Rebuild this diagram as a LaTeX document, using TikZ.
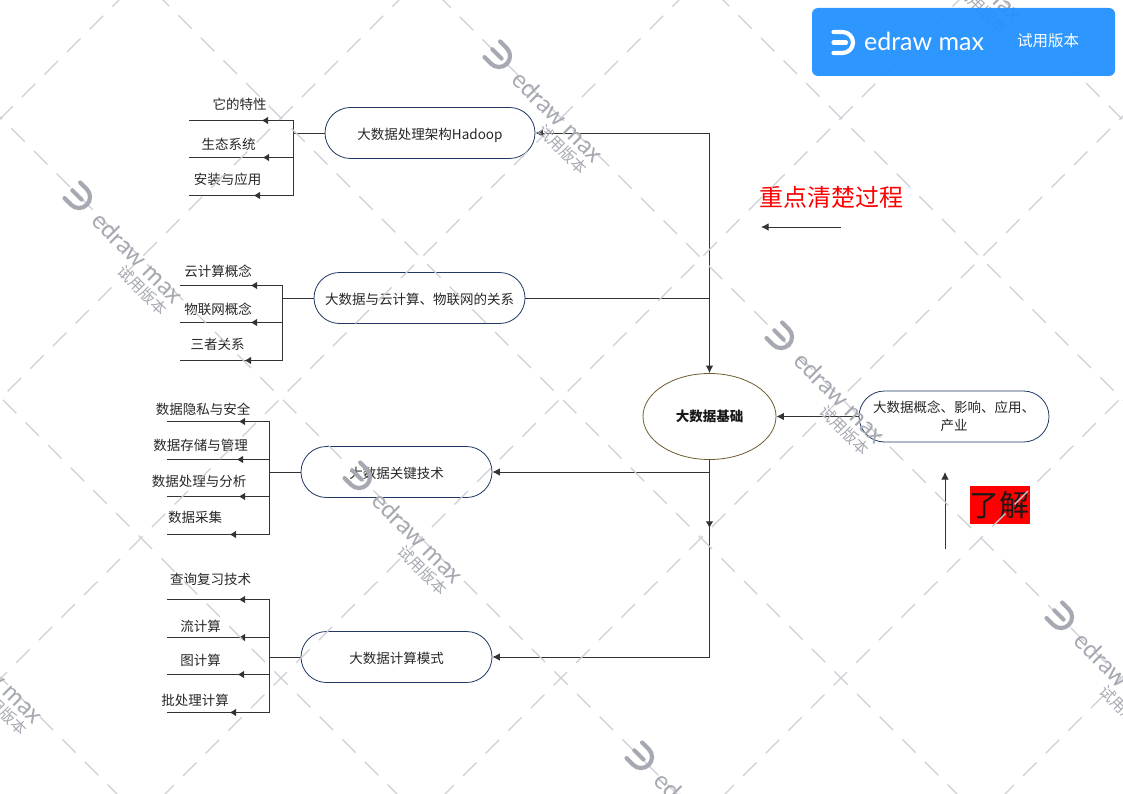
\documentclass[tikz,border=0pt]{standalone}
\usepackage{fontspec}
\setmainfont{Noto Sans CJK SC}
\newfontfamily\logofont{Lato}
\usetikzlibrary{shapes.misc, shapes.geometric, arrows.meta, decorations.markings}
\definecolor{pillc}{HTML}{1F3864}
\definecolor{ellc}{HTML}{6B5B2E}
\definecolor{linec}{HTML}{333333}
\definecolor{wmline}{HTML}{CDCFD4}
\definecolor{wmtext}{HTML}{A6A9B1}
\definecolor{bannerc}{HTML}{2291FF}

\begin{document}
\begin{tikzpicture}[
    x=1pt, y=-1pt,
    t/.style={font=\fontsize{13.5}{16}\selectfont, text=black!85, inner sep=0pt},
    pillbase/.style={rectangle, rounded rectangle, draw=pillc, line width=0.8pt, minimum height=51pt, font=\fontsize{13.5}{16}\selectfont, text=black!85, inner sep=0pt},
    pill/.style={pillbase, text height=13pt, text depth=0pt},
    l/.style={draw=linec, line width=0.9pt},
    a/.style={l, -{Latex[length=7.5pt, width=7.5pt]}},
    m/.style={l, postaction={decorate}, decoration={markings, mark=at position #1 with {\arrow{Latex[length=6.5pt, width=7.5pt]}}}},
    wm/.style={draw=wmline, line width=1.3pt, dash pattern=on 19pt off 13pt},
    logomark/.pic={
        \draw[line width=4.2pt, line cap=round, #1] (-9,-10.5) -- (0,-10.5) arc[start angle=-90, end angle=90, radius=10.5] -- (-9,10.5);
        \draw[line width=4.2pt, line cap=round, #1] (-9,0) -- (3.5,0);
    },
]
\useasboundingbox (0,0) rectangle (1123,794);

% Main nodes
\node[ellipse, draw=ellc, line width=0.8pt, minimum width=133pt, minimum height=86pt, inner sep=0pt, font=\fontsize{13.5}{16}\selectfont\bfseries, text=black!90] (base) at (709.5,416.5) {大数据基础};
\node[pill, minimum width=210pt] (hadoop) at (430,133) {大数据处理架构Hadoop};
\node[pill, minimum width=211pt] (cloud) at (419.5,298) {大数据与云计算、物联网的关系};
\node[pill, minimum width=191pt] (tech) at (396.5,472) {大数据关键技术};
\node[pill, minimum width=191pt] (mode) at (396.5,657) {大数据计算模式};
\node[pillbase, minimum width=190pt, text width=166pt, align=center] (intro) at (954,416.5) {大数据概念、影响、应用、\\[2pt]产业};

% Side notes
\node[font=\fontsize{24}{28}\selectfont, text=red, inner sep=0pt] (key) at (831,197) {重点清楚过程};
\node[fill=red, minimum width=59pt, minimum height=38pt, inner sep=0pt, font=\fontsize{30}{32}\selectfont, text=black!90] (know) at (999.5,505) {了解};
\coordinate (keya) at (841,227);
\coordinate (keyb) at (761,227);
\coordinate (knowa) at (945,549);
\coordinate (knowb) at (945,472);
\draw[a] (keya) -- (keyb);
\draw[a] (knowa) -- (knowb);

% Trunk
\coordinate (top) at (709.5,133);
\coordinate (low) at (709.5,657);
\draw[a] (top) -- (hadoop.east);
\draw[a] (top) -- (base.north);
\draw[l] (cloud.east) -- (cloud.east -| top);
\draw[m=68pt] (base.south) -- (low);
\draw[a] (base.south |- tech.east) -- (tech.east);
\draw[a] (low) -- (mode.east);
\draw[a] (intro.west) -- (base.east);

% Hadoop leaves
\node[t] (h1t) at (239.5,104) {它的特性};
\node[t] (h2t) at (228.5,144) {生态系统};
\node[t] (h3t) at (227.5,179) {安装与应用};
\coordinate (h1) at (293.5,120.5);
\coordinate (h2) at (293.5,157.5);
\coordinate (h3) at (293.5,195.5);
\coordinate (h1e) at (189,120.5);
\coordinate (h2e) at (189,157.5);
\coordinate (h3e) at (189,195.5);
\draw[l] (hadoop.west) -- (hadoop.west -| h1);
\draw[l] (h1) -- (h3);
\draw[m=32pt] (h1) -- (h1e);
\draw[m=31pt] (h2) -- (h2e);
\draw[m=40pt] (h3) -- (h3e);

% Cloud leaves
\node[t] (c1t) at (218,271) {云计算概念};
\node[t] (c2t) at (218,309) {物联网概念};
\node[t] (c3t) at (217.5,344) {三者关系};
\coordinate (c1) at (282.5,285.5);
\coordinate (c2) at (282.5,322.5);
\coordinate (c3) at (282.5,360.5);
\coordinate (c1e) at (179.5,285.5);
\coordinate (c2e) at (179.5,322.5);
\coordinate (c3e) at (179.5,360.5);
\draw[l] (cloud.west) -- (cloud.west -| c1);
\draw[l] (c1) -- (c3);
\draw[m=32pt] (c1) -- (c1e);
\draw[m=32pt] (c2) -- (c2e);
\draw[m=38pt] (c3) -- (c3e);

% Tech leaves
\node[t] (k1t) at (203,409) {数据隐私与安全};
\node[t] (k2t) at (200.5,445) {数据存储与管理};
\node[t] (k3t) at (199,481) {数据处理与分析};
\node[t] (k4t) at (195,517) {数据采集};
\coordinate (k1) at (269.5,421.5);
\coordinate (k2) at (269.5,459.5);
\coordinate (k3) at (269.5,496.5);
\coordinate (k4) at (269.5,534.5);
\coordinate (k1e) at (166.5,421.5);
\coordinate (k2e) at (166.5,459.5);
\coordinate (k3e) at (166.5,496.5);
\coordinate (k4e) at (166.5,534.5);
\draw[l] (tech.west) -- (tech.west -| k1);
\draw[l] (k1) -- (k4);
\draw[m=31pt] (k1) -- (k1e);
\draw[m=33pt] (k2) -- (k2e);
\draw[m=31pt] (k3) -- (k3e);
\draw[m=40pt] (k4) -- (k4e);

% Mode leaves
\node[t] (o1t) at (210.5,579) {查询复习技术};
\node[t] (o2t) at (200.5,626) {流计算};
\node[t] (o3t) at (200.5,660) {图计算};
\node[t] (o4t) at (195,700) {批处理计算};
\coordinate (o1) at (269.5,599.5);
\coordinate (o2) at (269.5,637.5);
\coordinate (o3) at (269.5,674.5);
\coordinate (o4) at (269.5,712.5);
\coordinate (o1e) at (166.5,599.5);
\coordinate (o2e) at (166.5,637.5);
\coordinate (o3e) at (166.5,674.5);
\coordinate (o4e) at (166.5,712.5);
\draw[l] (mode.west) -- (mode.west -| o1);
\draw[l] (o1) -- (o4);
\draw[m=31pt] (o1) -- (o1e);
\draw[m=31pt] (o2) -- (o2e);
\draw[m=32pt] (o3) -- (o3e);
\draw[m=40pt] (o4) -- (o4e);

% Watermark
\begin{scope}
\clip (0,0) rectangle (1123,794);
\foreach \c/\p in {-677/0.25, -397/8.75, -117/17.25, 163/25.75, 443/37.5, 723/42.75, 1003/6}
    \draw[wm] ({(\p-918.43+\c)/2},{(\p-918.43-\c)/2}) -- ++(1500,1500);
\foreach \s/\p in {119/28.5, 399/37, 679/0.25, 959/8.75, 1239/17.25, 1519/25.75, 1799/34.25}
    \draw[wm] ({(\s+\p-1371)/2},{(\s-\p+1371)/2}) -- ++(1400,-1400);
\foreach \x/\y in {-62/617, 78/197, 358/477, 640/757, 498/56, 780/337, 1060/617, 918/-84}{
    \pic[rotate=-45, scale=1.05] at (\x+1,\y) {logomark=wmtext};
    \node[rotate=-45, font=\logofont\fontsize{24.5}{30}\selectfont, text=wmtext, inner sep=0pt] at (\x+60,\y+60.5) {edraw max};
    \node[rotate=-45, font=\fontsize{15.5}{17}\selectfont, text=wmtext, inner sep=0pt] at (\x+65,\y+93) {试用版本};
}
\end{scope}

% Banner
\node[rectangle, rounded corners=6pt, fill=bannerc, fill opacity=0.95, minimum width=303pt, minimum height=68pt] (banner) at (963.5,42) {};
\pic at (842.5,42.5) {logomark=white};
\node[font=\logofont\fontsize{25}{30}\selectfont, text=white, inner sep=0pt] (bname) at (924,41) {edraw max};
\node[font=\fontsize{15.5}{17}\selectfont, text=white, inner sep=0pt] (btrial) at (1048,41) {试用版本};
\end{tikzpicture}
\end{document}
